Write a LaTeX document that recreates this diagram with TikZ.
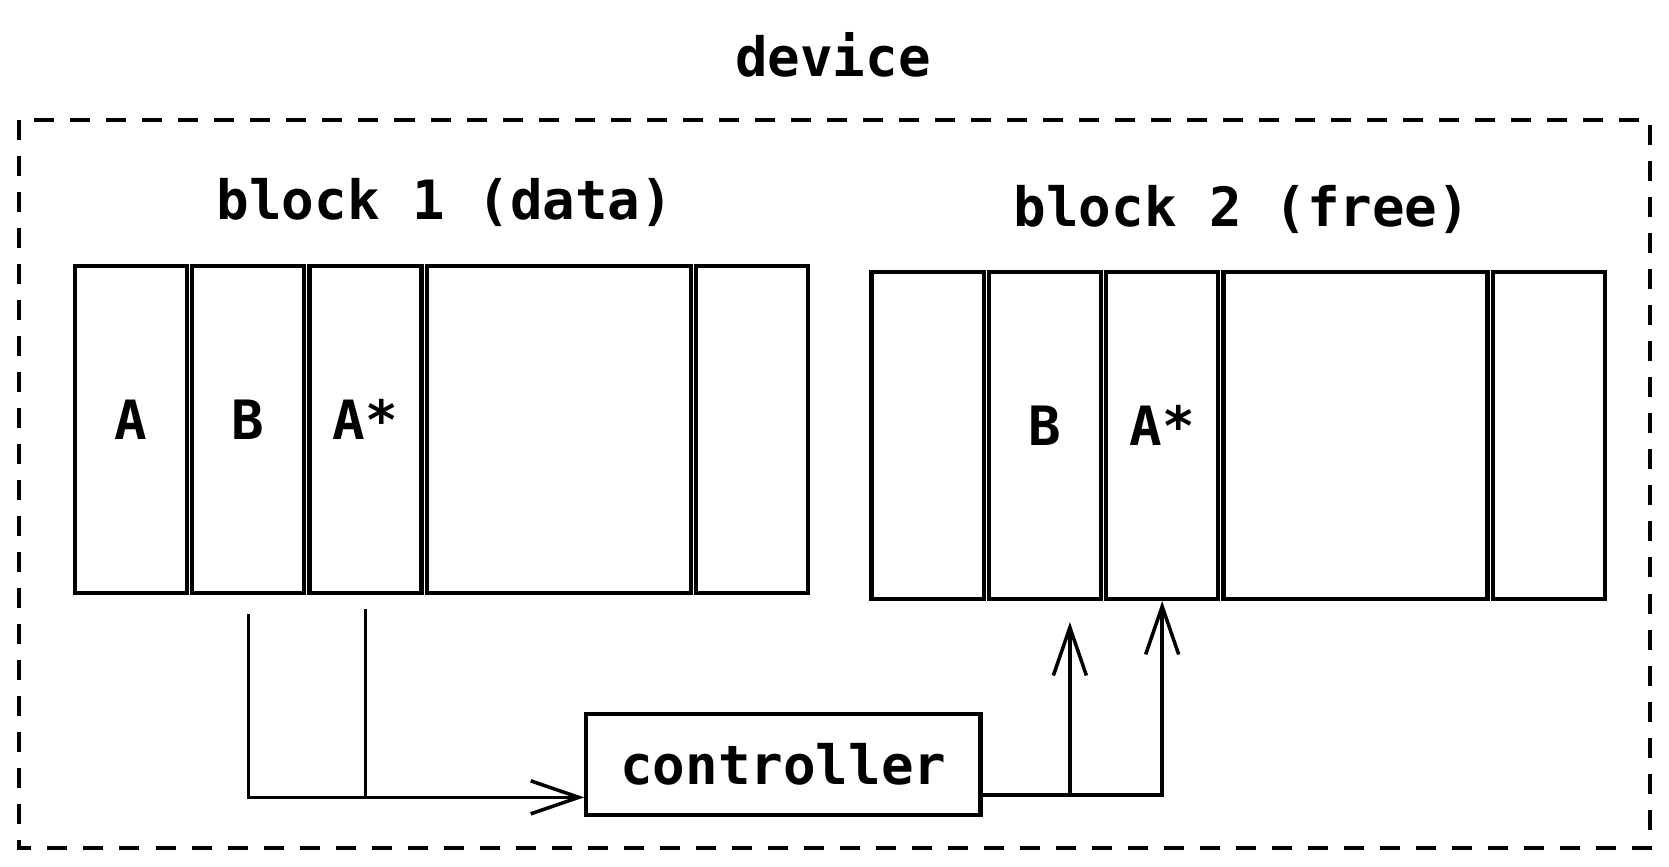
\documentclass[tikz,border=0pt]{standalone}
\usepackage{fontspec}
\setmonofont{DejaVu Sans Mono}
\usetikzlibrary{calc,positioning,arrows.meta}

\tikzset{
  chu/.style={font=\ttfamily\bfseries\fontsize{15.4}{18}\selectfont},
  o/.style={draw, line width=1.2pt, chu, inner sep=0pt, text depth=0.2cm, minimum width=1.12cm, minimum height=3.27cm},
  orong/.style={o, minimum width=2.64cm},
  day/.style={line width=1pt},
  muiten/.style={-{Straight Barb[length=4.8mm, width=3.3mm, line width=1pt]}},
  vien/.style={line width=1.1pt, dash pattern=on 0.2cm off 0.16cm}
}

\begin{document}
\begin{tikzpicture}[x=0.01cm, y=-0.01cm, node distance=0.01cm]
            \useasboundingbox (0,0) rectangle (1669,866);
            % Khung thiết bị
            \draw[vien] (19,120) rectangle (1650,848);
            \node[chu] (D) at (833,55) {device};
            % Khối 1
            \node[chu] (T1) at (445,202) {block 1 (data)};
            \node[o] (X1) at (131,429.5) {A};
            \node[o, right=of X1] (X2) {B};
            \node[o, right=of X2] (X3) {A*};
            \node[orong, right=of X3] (X4) {};
            \node[o, right=of X4] (X5) {};
            % Khối 2
            \node[chu] (T2) at (1242,209) {block 2 (free)};
            \node[o] (Y1) at (927.6,435.3) {};
            \node[o, right=of Y1] (Y2) {B};
            \node[o, right=of Y2] (Y3) {A*};
            \node[orong, right=of Y3] (Y4) {};
            \node[o, right=of Y4] (Y5) {};
            % Bộ điều khiển
            \node[draw, line width=1.2pt, chu, minimum width=3.94cm, minimum height=1.01cm] (C) at (783.4,764.7) {controller};
            % Các điểm nối
            \coordinate (Cin) at ($(C.south west)!0.19!(C.north west)$);
            \coordinate (Cout) at ($(C.south east)!0.21!(C.north east)$);
            \coordinate (J1) at (X3.south |- Cin);
            \coordinate (J2) at ($(Y2.south |- Cout)+(25,0)$);
            % Mũi tên
            \draw[day, shorten <=0.19cm] (X2.south) |- (J1);
            \draw[day, muiten, shorten <=0.14cm] (X3.south) |- (Cin);
            \draw[day, muiten] (Cout) -| (Y3.south);
            \draw[day, muiten, shorten >=0.21cm] (J2) -- (J2 |- Y2.south);
        \end{tikzpicture}
\end{document}
